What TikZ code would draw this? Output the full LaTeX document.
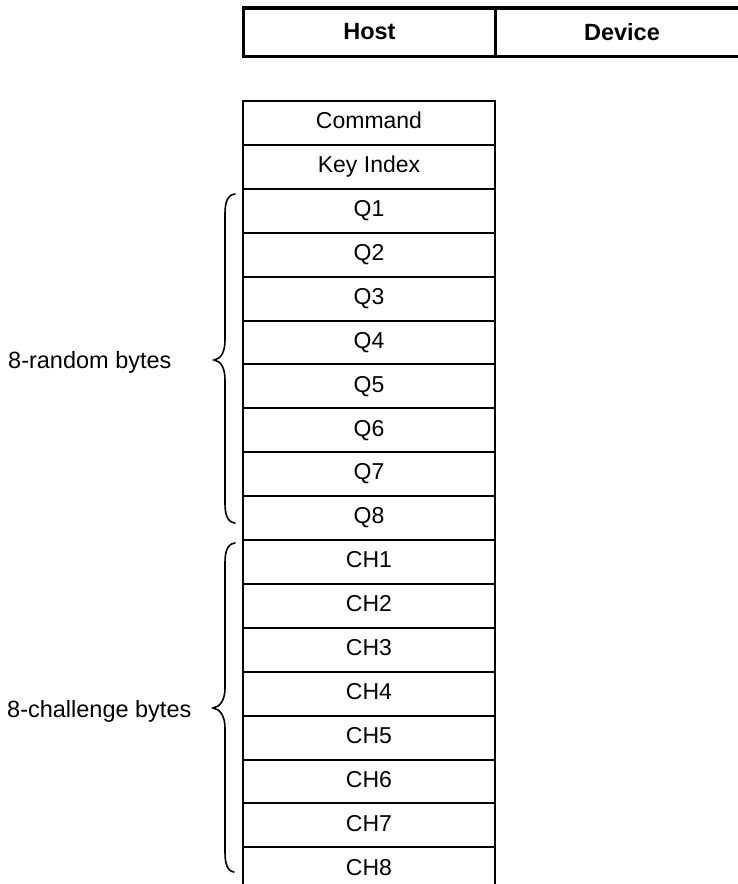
\documentclass[tikz,border=0pt]{standalone}
\usepackage{fontspec}
\setmainfont{Liberation Sans}
\begin{document}
\begin{tikzpicture}[x=1pt,y=-1pt,
  cell/.style={draw, line width=2pt, minimum width=251.7pt, minimum height=43.9pt,
    inner sep=0pt, outer sep=0pt, text height=17pt, text depth=5.4pt,
    font=\fontsize{23}{27}\selectfont},
  hdr/.style={font=\bfseries\fontsize{23.5}{28}\selectfont, inner sep=0pt},
  lbl/.style={anchor=base west, font=\fontsize{23.5}{28}\selectfont, inner sep=0pt},
  bracestyle/.style={line width=1.6pt, line cap=round}]
\useasboundingbox (0,0) rectangle (738,884);
% header table
\coordinate (htl) at (243.3,8);
\coordinate (htr) at (738,8);
\coordinate (hbl) at (243.3,56.7);
\coordinate (hbr) at (738,56.7);
\coordinate (hmt) at (495.5,8);
\coordinate (hmb) at (495.5,56.7);
\draw[line width=2.5pt] (htl) -- (hbl);
\draw[line width=2.2pt] (hmt) -- (hmb);
\draw[line width=4pt] ([xshift=-1.25pt]htl) -- (htr);
\draw[line width=3pt] ([xshift=-1.25pt]hbl) -- (hbr);
\node[hdr] (host) at (369.4,32) {Host};
\node[hdr] (device) at (622,32) {Device};
% column cells
\foreach \t [count=\i] in {Command,Key Index,Q1,Q2,Q3,Q4,Q5,Q6,Q7,Q8,CH1,CH2,CH3,CH4,CH5,CH6,CH7}
  \node[cell] (r\i) at (369,{101+43.9*(\i-0.5)}) {\t};
\node[cell, draw=none] (r18) at (369,{101+43.9*17.5}) {CH8};
\coordinate (r18bl) at (r18.west |- 0,884);
\coordinate (r18br) at (r18.east |- 0,884);
\draw[line width=2pt] (r18bl) -- (r18.north west) -- (r18.north east) -- (r18br);
% braces
\coordinate (b1t) at (235,194);
\coordinate (b1m) at (214,360);
\coordinate (b1b) at (235,523);
\draw[bracestyle] (b1t) .. controls (227,195) and (225,203) .. (225,214)
  -- (225,340) .. controls (225,352) and (221,359) .. (b1m)
  .. controls (221,361) and (225,368) .. (225,380)
  -- (225,503) .. controls (225,514) and (227,522) .. (b1b);
\coordinate (b2t) at (235,543);
\coordinate (b2m) at (213,708);
\coordinate (b2b) at (234,872);
\draw[bracestyle] (b2t) .. controls (227,544) and (225,552) .. (225,563)
  -- (225,688) .. controls (225,700) and (220,707) .. (b2m)
  .. controls (220,709) and (225,716) .. (225,728)
  -- (225,852) .. controls (225,863) and (227,871) .. (b2b);
% labels
\node[lbl] (lab1) at (8,368) {8-random bytes};
\node[lbl] (lab2) at (7,717) {8-challenge bytes};
\end{tikzpicture}
\end{document}
